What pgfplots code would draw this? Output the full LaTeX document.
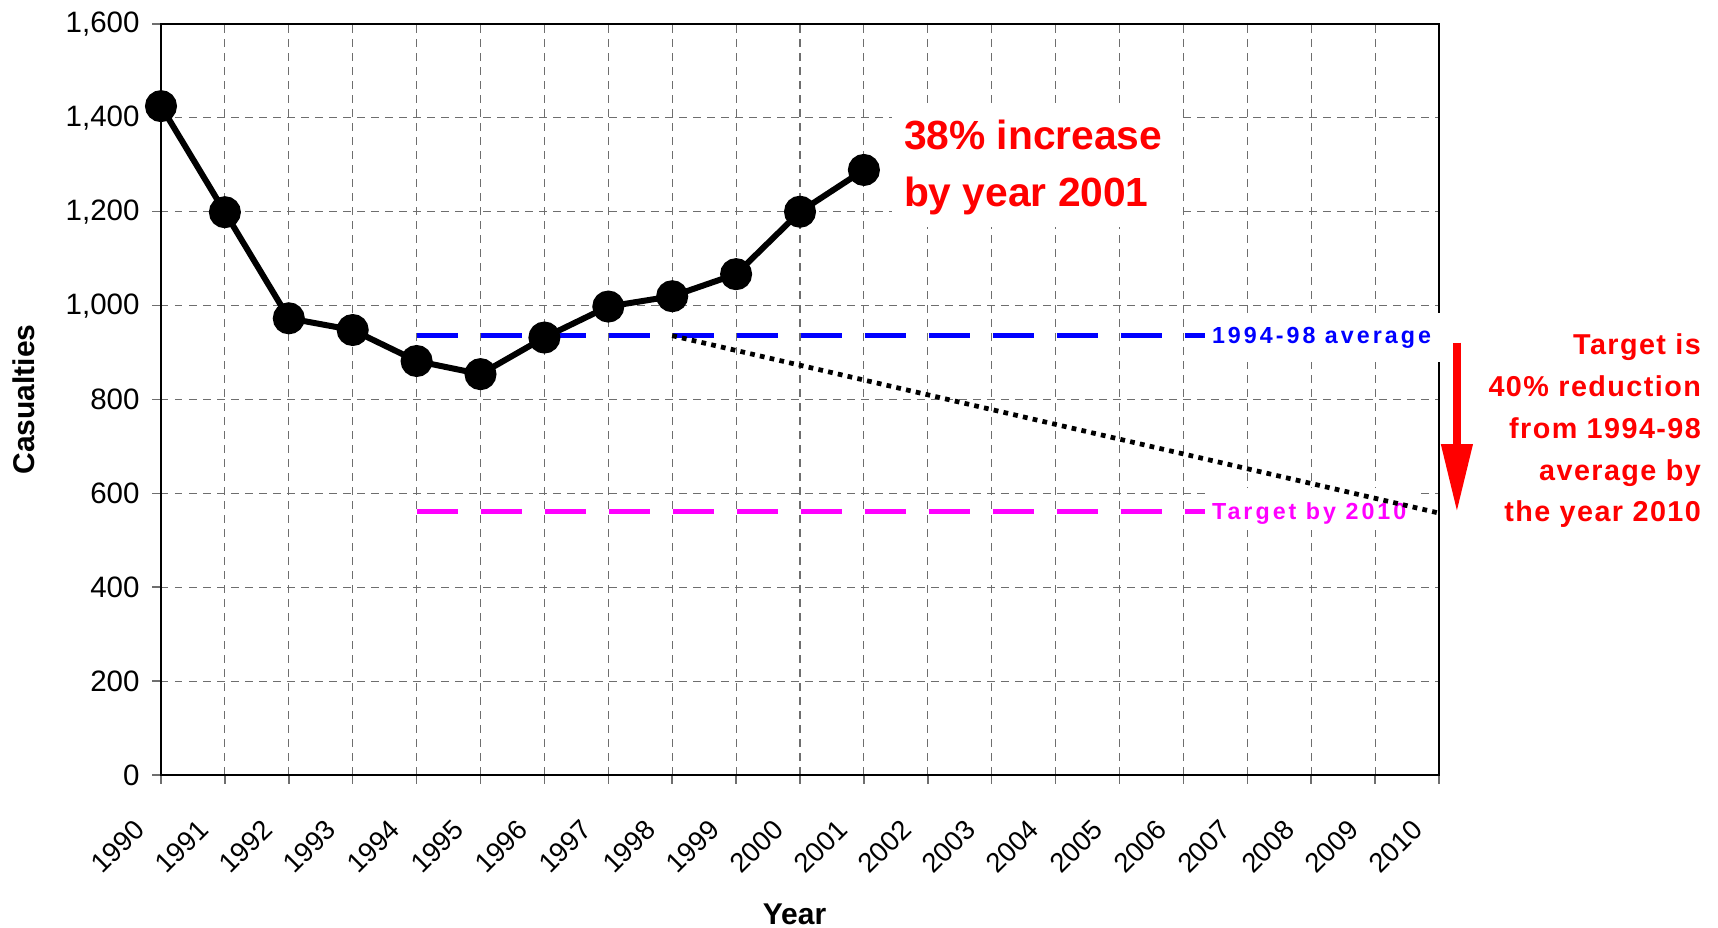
\documentclass[border=0pt]{standalone}
\usepackage{pgfplots}
\pgfplotsset{compat=1.18}
\usepackage{fontspec}
\setmainfont{Liberation Sans}
\newfontfamily\spacedfont[LetterSpace=13]{Liberation Sans}
\newfontfamily\redfont[LetterSpace=5]{Liberation Sans}
\usetikzlibrary{arrows.meta}
\definecolor{gridgray}{RGB}{110,110,110}
\definecolor{puremagenta}{RGB}{255,0,255}
\definecolor{pureblue}{RGB}{0,0,255}
\definecolor{purered}{RGB}{255,0,0}

\begin{document}
\begin{tikzpicture}
\begin{axis}[
  at={(0,0)}, anchor=south west,
  scale only axis, width=511.2pt, height=300.4pt,
  xmin=1990, xmax=2010, ymin=0, ymax=1600,
  xtick={1990,1991,...,2010},
  ytick={0,200,...,1600},
  grid=major,
  major grid style={gridgray, line width=0.45pt, dash pattern=on 3pt off 2.6pt},
  tick pos=left, tick align=outside, major tick length=3.6pt,
  tick style={gridgray, line width=0.6pt},
  axis line style={black, line width=1.1pt},
  /pgf/number format/assume math mode=true,
  yticklabel style={/pgf/number format/1000 sep={,}, font=\fontsize{11.8}{13}\selectfont, anchor=east, inner sep=0pt, xshift=-4.8pt},
  xticklabel style={/pgf/number format/1000 sep={}, font=\fontsize{11}{13}\selectfont, rotate=45, anchor=east, inner sep=0pt, xshift=-17.5pt, yshift=-5.5pt},
  xlabel={Year}, ylabel={Casualties},
  xlabel style={font=\bfseries\fontsize{12}{14}\selectfont, at={(axis description cs:0.4957,-0.185)}, anchor=center},
  ylabel style={font=\bfseries\fontsize{12}{14}\selectfont, at={(axis description cs:-0.1072,0.5)}, anchor=center},
  clip=false,
]
% 1994-98 average and target lines
\addplot[pureblue, line width=2pt, dash pattern=on 16.4pt off 9.2pt] coordinates {(1994,936) (2010,936)};
\addplot[puremagenta, line width=2pt, dash pattern=on 16.4pt off 9.2pt] coordinates {(1994,561.6) (2010,561.6)};
\fill[white] (axis cs:2006.33,880.5) rectangle (axis cs:2010.1,984.3);
\fill[white] (axis cs:2006.33,522) rectangle (axis cs:2009.7,611.4);
\node[anchor=base west, inner sep=0pt, text=pureblue, font=\spacedfont\bfseries\fontsize{9.3}{11}\selectfont] at (axis cs:2006.44,919.7) {1994-98 average};
\node[anchor=base west, inner sep=0pt, text=puremagenta, font=\spacedfont\bfseries\fontsize{9.3}{11}\selectfont] at (axis cs:2006.44,543.3) {Target by 2010};
% trend to target
\addplot[black, line width=1.9pt, dash pattern=on 1.9pt off 2.1pt] coordinates {(1998,936) (2010,558)};
% casualties
\addplot[black, line width=2.4pt, mark=*, mark size=5.2pt, mark options={solid}] coordinates {
(1990,1425) (1991,1199) (1992,973) (1993,948) (1994,882) (1995,854)
(1996,932) (1997,998) (1998,1020) (1999,1067) (2000,1200) (2001,1289)};
% annotation
\fill[white] (axis cs:2001.44,1167.5) rectangle (axis cs:2005.96,1431.7);
\node[anchor=base west, inner sep=0pt, text=purered, font=\bfseries\fontsize{16.3}{19}\selectfont] at (axis cs:2001.62,1331.6) {38\% increase};
\node[anchor=base west, inner sep=0pt, text=purered, font=\bfseries\fontsize{16.3}{19}\selectfont] at (axis cs:2001.62,1210.8) {by year 2001};
\draw[purered, line width=2.9pt, -{Triangle[width=12pt,length=27pt]}] (axis cs:2010.28,921.1) -- (axis cs:2010.28,560.9);
\node[anchor=base east, inner sep=0pt, text=purered, font=\redfont\bfseries\fontsize{11.5}{13}\selectfont] at (axis cs:2014.106,894.8) {Target is};
\node[anchor=base east, inner sep=0pt, text=purered, font=\redfont\bfseries\fontsize{11.5}{13}\selectfont] at (axis cs:2014.106,805.9) {40\% reduction};
\node[anchor=base east, inner sep=0pt, text=purered, font=\redfont\bfseries\fontsize{11.5}{13}\selectfont] at (axis cs:2014.106,716.9) {from 1994-98};
\node[anchor=base east, inner sep=0pt, text=purered, font=\redfont\bfseries\fontsize{11.5}{13}\selectfont] at (axis cs:2014.106,628.0) {average by};
\node[anchor=base east, inner sep=0pt, text=purered, font=\redfont\bfseries\fontsize{11.5}{13}\selectfont] at (axis cs:2014.106,539.0) {the year 2010};
\end{axis}
\pgfresetboundingbox
\path (-64.4pt,-61.2pt) rectangle (622.8pt,310pt);
\end{tikzpicture}
\end{document}
